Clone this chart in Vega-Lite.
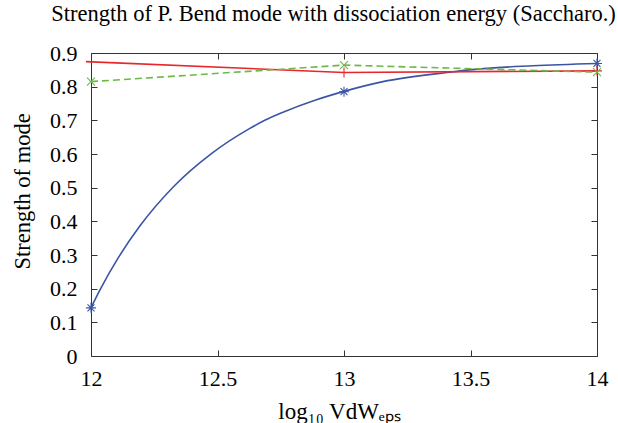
{
  "$schema": "https://vega.github.io/schema/vega-lite/v6.json",
  "width": 506,
  "height": 303,
  "autosize": "none",
  "padding": {"left": 91, "top": 53, "right": 21, "bottom": 67},
  "background": "white",
  "title": {
    "text": "Strength of P. Bend mode with dissociation energy (Saccharo.)",
    "font": "Liberation Serif",
    "fontSize": 22.5,
    "fontWeight": "normal",
    "color": "black",
    "anchor": "middle",
    "dx": -10.5,
    "baseline": "alphabetic",
    "offset": -1
  },
  "config": {
    "view": {"stroke": "#333333", "strokeWidth": 1},
    "axis": {
      "domain": false,
      "grid": false,
      "tickColor": "#333333",
      "tickSize": -6,
      "tickWidth": 1,
      "labelFlush": false,
      "labelFont": "Liberation Serif",
      "labelFontSize": 22,
      "labelColor": "black",
      "titleFont": "Liberation Serif",
      "titleFontWeight": "normal",
      "titleColor": "black"
    }
  },
  "datasets": {
    "lines": [
      {"series": "blue", "x": 12.0, "y": 0.143},
      {"series": "blue", "x": 12.036, "y": 0.197},
      {"series": "blue", "x": 12.108, "y": 0.292},
      {"series": "blue", "x": 12.193, "y": 0.386},
      {"series": "blue", "x": 12.325, "y": 0.502},
      {"series": "blue", "x": 12.476, "y": 0.601},
      {"series": "blue", "x": 12.628, "y": 0.676},
      {"series": "blue", "x": 12.687, "y": 0.700},
      {"series": "blue", "x": 12.759, "y": 0.724},
      {"series": "blue", "x": 12.891, "y": 0.761},
      {"series": "blue", "x": 13.0, "y": 0.786},
      {"series": "blue", "x": 13.154, "y": 0.815},
      {"series": "blue", "x": 13.417, "y": 0.843},
      {"series": "blue", "x": 13.496, "y": 0.850},
      {"series": "blue", "x": 13.746, "y": 0.862},
      {"series": "blue", "x": 14.0, "y": 0.869},
      {"series": "red", "x": 11.98, "y": 0.8745},
      {"series": "red", "x": 13.0, "y": 0.842},
      {"series": "red", "x": 14.0, "y": 0.847},
      {"series": "green", "x": 12.0, "y": 0.815},
      {"series": "green", "x": 13.0, "y": 0.864},
      {"series": "green", "x": 14.0, "y": 0.843}
    ],
    "markers": [
      {"series": "blue", "x": 12.0, "y": 0.143},
      {"series": "blue", "x": 13.0, "y": 0.785},
      {"series": "blue", "x": 14.0, "y": 0.869},
      {"series": "red", "x": 13.0, "y": 0.842},
      {"series": "red", "x": 14.0, "y": 0.847},
      {"series": "green", "x": 12.0, "y": 0.815},
      {"series": "green", "x": 13.0, "y": 0.864},
      {"series": "green", "x": 14.0, "y": 0.843}
    ]
  },
  "layer": [
    {
      "data": {"name": "lines"},
      "transform": [{"filter": "datum.series == 'blue'"}],
      "mark": {"type": "line", "color": "#3b55a5", "strokeWidth": 1.6, "interpolate": "monotone"},
      "encoding": {
        "x": {
          "field": "x", "type": "quantitative",
          "scale": {"domain": [12, 14], "nice": false, "zero": false},
          "axis": {
            "orient": "bottom",
            "values": [12, 12.5, 13, 13.5, 14],
            "format": "~g",
            "labelPadding": 18,
            "labelBaseline": "top",
            "title": "log₁₀ VdWₑₚₛ",
            "titleFontSize": 23,
            "titleX": 248,
            "titleY": 62,
            "titleBaseline": "alphabetic",
            "titleAlign": "center"
          }
        },
        "y": {
          "field": "y", "type": "quantitative",
          "scale": {"domain": [0, 0.9], "nice": false, "zero": false},
          "axis": {
            "orient": "left",
            "values": [0, 0.1, 0.2, 0.3, 0.4, 0.5, 0.6, 0.7, 0.8, 0.9],
            "format": "~g",
            "labelPadding": 20,
            "labelBaseline": "middle",
            "title": "Strength of mode",
            "titleFontSize": 22.5,
            "titleAngle": -90,
            "titleX": -61.5,
            "titleY": 138,
            "titleBaseline": "alphabetic",
            "titleAlign": "center"
          }
        }
      }
    },
    {
      "data": {"name": "lines"},
      "transform": [{"filter": "datum.series == 'red'"}],
      "mark": {"type": "line", "color": "#e8262b", "strokeWidth": 1.6, "clip": false},
      "encoding": {
        "x": {
          "field": "x", "type": "quantitative",
          "axis": {"orient": "top", "values": [12, 12.5, 13, 13.5, 14], "labels": false, "title": null, "minExtent": 0, "maxExtent": 0}
        },
        "y": {
          "field": "y", "type": "quantitative",
          "axis": {"orient": "right", "values": [0, 0.1, 0.2, 0.3, 0.4, 0.5, 0.6, 0.7, 0.8, 0.9], "labels": false, "title": null, "minExtent": 0, "maxExtent": 0}
        }
      }
    },
    {
      "data": {"name": "lines"},
      "transform": [{"filter": "datum.series == 'green'"}],
      "mark": {"type": "line", "color": "#6cb946", "strokeWidth": 1.6, "strokeDash": [7, 4]},
      "encoding": {
        "x": {"field": "x", "type": "quantitative", "axis": null},
        "y": {"field": "y", "type": "quantitative", "axis": null}
      }
    },
    {
      "data": {"name": "markers"},
      "mark": {"type": "point", "filled": false, "strokeWidth": 1.1, "size": 100, "opacity": 1},
      "encoding": {
        "x": {"field": "x", "type": "quantitative", "axis": null},
        "y": {"field": "y", "type": "quantitative", "axis": null},
        "color": {
          "field": "series", "type": "nominal", "legend": null,
          "scale": {"domain": ["blue", "red", "green"], "range": ["#3b55a5", "#e8262b", "#6cb946"]}
        },
        "shape": {
          "field": "series", "type": "nominal", "legend": null,
          "scale": {
            "domain": ["blue", "red", "green"],
            "range": [
              "M-1,0L1,0M0,-1L0,1M-0.7,-0.7L0.7,0.7M-0.7,0.7L0.7,-0.7",
              "M-1,0L1,0M0,-1L0,1",
              "M-0.8,-0.8L0.8,0.8M-0.8,0.8L0.8,-0.8"
            ]
          }
        }
      }
    }
  ],
  "resolve": {"axis": {"x": "independent", "y": "independent"}}
}
